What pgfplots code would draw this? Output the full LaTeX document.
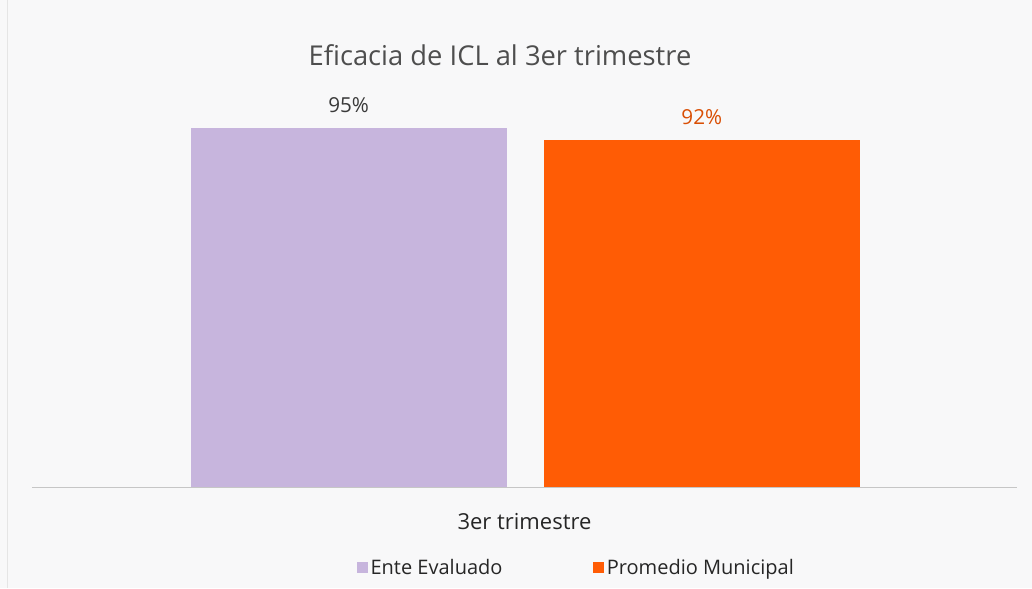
\documentclass[border=0pt]{standalone}
\usepackage{fontspec}
\setmainfont{Open Sans}
\usepackage{pgfplots}
\pgfplotsset{compat=1.18}
\definecolor{ente}{HTML}{C7B5DD}
\definecolor{prom}{HTML}{FF5C05}
\definecolor{txt}{HTML}{3A3A3A}
\definecolor{bg}{HTML}{F8F8F9}
\begin{document}
\begin{tikzpicture}
% picture frame: 1px = 0.75pt, y measured from the bottom
\fill[bg] (0pt,0pt) rectangle (774pt,441pt);
\draw[gray!20] (5.25pt,0pt) -- (5.25pt,441pt);
\node[font=\fontsize{20.5}{24}\selectfont, text=txt!90] at (375pt,399.75pt) {Eficacia de ICL al 3er trimestre};
\begin{axis}[
  at={(24pt,75.75pt)}, anchor=south west,
  scale only axis, width=738.75pt, height=283.5pt,
  xmin=-1, xmax=1, ymin=0, ymax=100,
  axis x line=bottom, axis y line=none,
  axis line style={-, gray!45},
  xtick={0}, xticklabels={3er trimestre},
  major tick length=0pt,
  xticklabel style={font=\fontsize{16.5}{19}\selectfont, text=black!85, anchor=center, yshift=-25.5pt},
  clip=false,
  /pgf/number format/assume math mode=true,
  nodes near coords={\pgfmathprintnumber{\pgfplotspointmeta}\%},
  every node near coord/.append style={font=\fontsize{15.5}{18}\selectfont, anchor=center, yshift=17pt},
  legend style={draw=none, fill=none, at={(0.553,-0.214)}, anchor=center,
    font=\fontsize{15}{18}\selectfont, text=black!85, legend columns=2,
    /tikz/every even column/.append style={column sep=66pt}},
  legend image code/.code={\fill[#1] (0pt,-4pt) rectangle (8.25pt,4.25pt);},
]
\addplot[ybar, bar width=0.6416, bar shift=0pt, fill=ente, draw=none,
  every node near coord/.append style={text=txt}]
  coordinates {(-0.357,95)};
\addlegendentry{Ente Evaluado}
\addplot[ybar, bar width=0.6416, bar shift=0pt, fill=prom, draw=none,
  every node near coord/.append style={text=prom!85!black}]
  coordinates {(0.360,92)};
\addlegendentry{Promedio Municipal}
\end{axis}
\end{tikzpicture}
\end{document}
